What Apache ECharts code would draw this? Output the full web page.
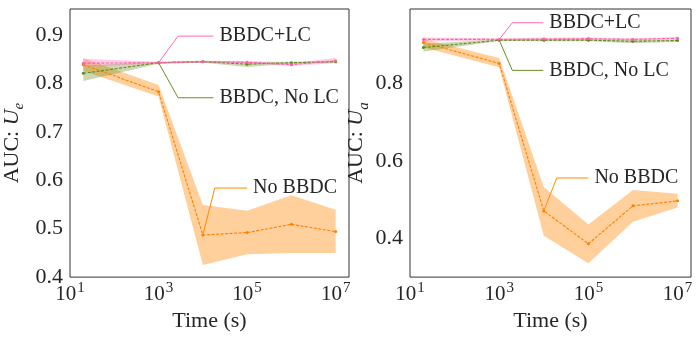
<!DOCTYPE html>
<html>
<head>
<meta charset="utf-8">
<script src="https://cdn.jsdelivr.net/npm/echarts@6/dist/echarts.min.js"></script>
<style>
  html, body { margin: 0; padding: 0; background: #fff; }
  #chart { width: 699px; height: 337px; }
</style>
</head>
<body>
<div id="chart"></div>
<script>
// Elapsed time (s) at which each condition was evaluated
const timeSec = [20, 1e3, 1e4, 1e5, 1e6, 1e7];

// AUC on U_e (left panel): mean and band limits
const noBBDC_e_mean = [0.839, 0.783, 0.487, 0.492, 0.509, 0.494];
const noBBDC_e_low  = [0.826, 0.773, 0.425, 0.447, 0.450, 0.450];
const noBBDC_e_high = [0.852, 0.797, 0.549, 0.537, 0.569, 0.539];

const noLC_e_mean = [0.821, 0.843, 0.845, 0.840, 0.843, 0.845];
const noLC_e_low  = [0.805, 0.841, 0.843, 0.834, 0.841, 0.843];
const noLC_e_high = [0.837, 0.845, 0.847, 0.845, 0.845, 0.847];

const lc_e_mean = [0.842, 0.843, 0.845, 0.844, 0.839, 0.847];
const lc_e_low  = [0.835, 0.841, 0.843, 0.842, 0.836, 0.842];
const lc_e_high = [0.851, 0.845, 0.847, 0.846, 0.842, 0.853];

// AUC on U_a (right panel)
const noBBDC_a_mean = [0.906, 0.852, 0.471, 0.386, 0.484, 0.497];
const noBBDC_a_low  = [0.893, 0.842, 0.407, 0.336, 0.443, 0.480];
const noBBDC_a_high = [0.915, 0.866, 0.533, 0.436, 0.525, 0.515];

const noLC_a_mean = [0.893, 0.912, 0.912, 0.912, 0.909, 0.911];
const noLC_a_low  = [0.883, 0.910, 0.909, 0.909, 0.904, 0.908];
const noLC_a_high = [0.903, 0.914, 0.915, 0.915, 0.913, 0.914];

const lc_a_mean = [0.914, 0.914, 0.915, 0.916, 0.914, 0.917];
const lc_a_low  = [0.909, 0.911, 0.912, 0.913, 0.911, 0.914];
const lc_a_high = [0.919, 0.917, 0.918, 0.919, 0.917, 0.920];

// Series names and axis tick positions
const seriesNames = ['No BBDC', 'BBDC, No LC', 'BBDC+LC'];
const xTickExponents = [1, 3, 5, 7];
const yTicksLeft = [0.4, 0.5, 0.6, 0.7, 0.8, 0.9];
const yTicksRight = [0.4, 0.6, 0.8];

const FONT = "'Liberation Serif', 'Times New Roman', serif";
const TEXT = '#262626';

const palette = {
  'No BBDC':     { line: '#ff8000', band: 'rgba(255,140,20,0.42)', link: '#ff8c00' },
  'BBDC, No LC': { line: '#5f8a1e', band: 'rgba(107,142,35,0.35)', link: '#6b8e23' },
  'BBDC+LC':     { line: '#ff5fae', band: 'rgba(255,105,180,0.35)', link: '#ff69b4' }
};

// Callout leader lines: start at a data point, bend at an elbow, end before the text
const callouts = [
  { grid: 0, name: 'BBDC+LC',     from: [1, lc_e_mean],     elbow: [2760, 0.898],  end: 17400 },
  { grid: 0, name: 'BBDC, No LC', from: [1, noLC_e_mean],   elbow: [2760, 0.7706], end: 17400 },
  { grid: 0, name: 'No BBDC',     from: [2, noBBDC_e_mean], elbow: [18600, 0.584], end: 1e5 },
  { grid: 1, name: 'BBDC+LC',     from: [1, lc_a_mean],     elbow: [1970, 0.957],  end: 9750 },
  { grid: 1, name: 'BBDC, No LC', from: [1, noLC_a_mean],   elbow: [1970, 0.834],  end: 9750 },
  { grid: 1, name: 'No BBDC',     from: [2, noBBDC_a_mean], elbow: [19500, 0.556], end: 1e5 }
];

const panels = [
  [ ['No BBDC', noBBDC_e_mean, noBBDC_e_low, noBBDC_e_high],
    ['BBDC, No LC', noLC_e_mean, noLC_e_low, noLC_e_high],
    ['BBDC+LC', lc_e_mean, lc_e_low, lc_e_high] ],
  [ ['No BBDC', noBBDC_a_mean, noBBDC_a_low, noBBDC_a_high],
    ['BBDC, No LC', noLC_a_mean, noLC_a_low, noLC_a_high],
    ['BBDC+LC', lc_a_mean, lc_a_low, lc_a_high] ]
];

function pairs(ys) { return timeSec.map((t, i) => [t, ys[i]]); }

// Shaded band between low and high, drawn as one polygon through the axis scales
function bandSeries(gi, name, low, high) {
  return {
    type: 'custom', xAxisIndex: gi, yAxisIndex: gi, silent: true, z: 1,
    data: timeSec.map((t, i) => [t, low[i], high[i]]),
    encode: { x: 0, y: [1, 2] },
    renderItem: function (params, api) {
      if (params.dataIndex !== 0) return null;
      const upper = [], lower = [];
      timeSec.forEach((t, i) => {
        upper.push(api.coord([t, high[i]]));
        lower.unshift(api.coord([t, low[i]]));
      });
      return {
        type: 'polygon',
        shape: { points: upper.concat(lower) },
        style: { fill: palette[name].band, stroke: null }
      };
    }
  };
}

const series = [];
panels.forEach((groups, gi) => {
  groups.forEach(([name, mean, low, high]) => series.push(bandSeries(gi, name, low, high)));
  groups.forEach(([name, mean]) => {
    series.push({
      type: 'line', name: name, xAxisIndex: gi, yAxisIndex: gi,
      data: pairs(mean), symbol: 'circle', symbolSize: 3,
      itemStyle: { color: palette[name].line },
      lineStyle: { color: palette[name].line, width: 1.1, type: [3, 1.5] },
      z: 3
    });
  });
});

callouts.forEach(c => {
  const i = c.from[0];
  const start = [timeSec[i], c.from[1][i]];
  series.push({
    type: 'line', xAxisIndex: c.grid, yAxisIndex: c.grid,
    data: [start, c.elbow, [c.end, c.elbow[1]]],
    symbol: 'none', lineStyle: { color: palette[c.name].link, width: 1 },
    endLabel: {
      show: true, formatter: c.name, distance: 6,
      fontFamily: FONT, fontSize: 20, color: TEXT
    },
    z: 4, silent: true
  });
});

function xLabel(v) {
  const e = Math.log10(v);
  const k = Math.round(e);
  if (Math.abs(e - k) < 1e-6 && xTickExponents.includes(k)) return '{b|10}{s|' + k + '}';
  return '';
}
function yLabel(ticks) {
  return v => {
    const hit = ticks.find(t => Math.abs(t - v) < 1e-6);
    return hit === undefined ? '' : hit.toFixed(1);
  };
}

const xAxisBase = {
  type: 'log', logBase: 10, min: 10, max: 2e7,
  axisLine: { show: false }, axisTick: { show: false }, splitLine: { show: false },
  axisLabel: {
    interval: 0, margin: 3, formatter: xLabel, color: TEXT,
    rich: {
      b: { fontFamily: FONT, fontSize: 21, color: TEXT, lineHeight: 24, verticalAlign: 'bottom' },
      s: { fontFamily: FONT, fontSize: 15, color: TEXT, verticalAlign: 'bottom', padding: [0, 0, 10, 1] }
    }
  },
  name: 'Time (s)', nameLocation: 'middle', nameGap: 31,
  nameTextStyle: { fontFamily: FONT, fontSize: 22, color: TEXT }
};

function yAxisFor(min, max, ticks, sub, gap) {
  return {
    type: 'value', min: min, max: max, interval: 0.1,
    axisLine: { show: false }, axisTick: { show: false }, splitLine: { show: false },
    axisLabel: { interval: 0, margin: 7, formatter: yLabel(ticks),
      fontFamily: FONT, fontSize: 22, color: TEXT },
    name: '{t|AUC: }{u|U}{d|' + sub + '}', nameLocation: 'middle', nameGap: gap, nameRotate: 90,
    nameTextStyle: {
      rich: {
        t: { fontFamily: FONT, fontSize: 22, color: TEXT, verticalAlign: 'bottom', lineHeight: 24 },
        u: { fontFamily: FONT, fontSize: 22, fontStyle: 'italic', color: TEXT, verticalAlign: 'bottom', lineHeight: 24 },
        d: { fontFamily: FONT, fontSize: 15, fontStyle: 'italic', color: TEXT, verticalAlign: 'bottom', padding: [0, 0, -4, 0] }
      }
    }
  };
}

const chart = echarts.init(document.getElementById('chart'), null, { renderer: 'canvas' });
chart.setOption({
  animation: false,
  backgroundColor: '#ffffff',
  grid: [
    { left: 69, right: 350, top: 9, bottom: 51, show: true, borderColor: '#333', borderWidth: 1, backgroundColor: 'transparent' },
    { left: 410, right: 8, top: 9, bottom: 51, show: true, borderColor: '#333', borderWidth: 1, backgroundColor: 'transparent' }
  ],
  xAxis: [
    Object.assign({ gridIndex: 0 }, xAxisBase),
    Object.assign({ gridIndex: 1 }, xAxisBase)
  ],
  yAxis: [
    Object.assign({ gridIndex: 0 }, yAxisFor(0.4, 0.954, yTicksLeft, 'e', 47)),
    Object.assign({ gridIndex: 1 }, yAxisFor(0.3, 0.9925, yTicksRight, 'a', 42))
  ],
  series: series
});
</script>
</body>
</html>
